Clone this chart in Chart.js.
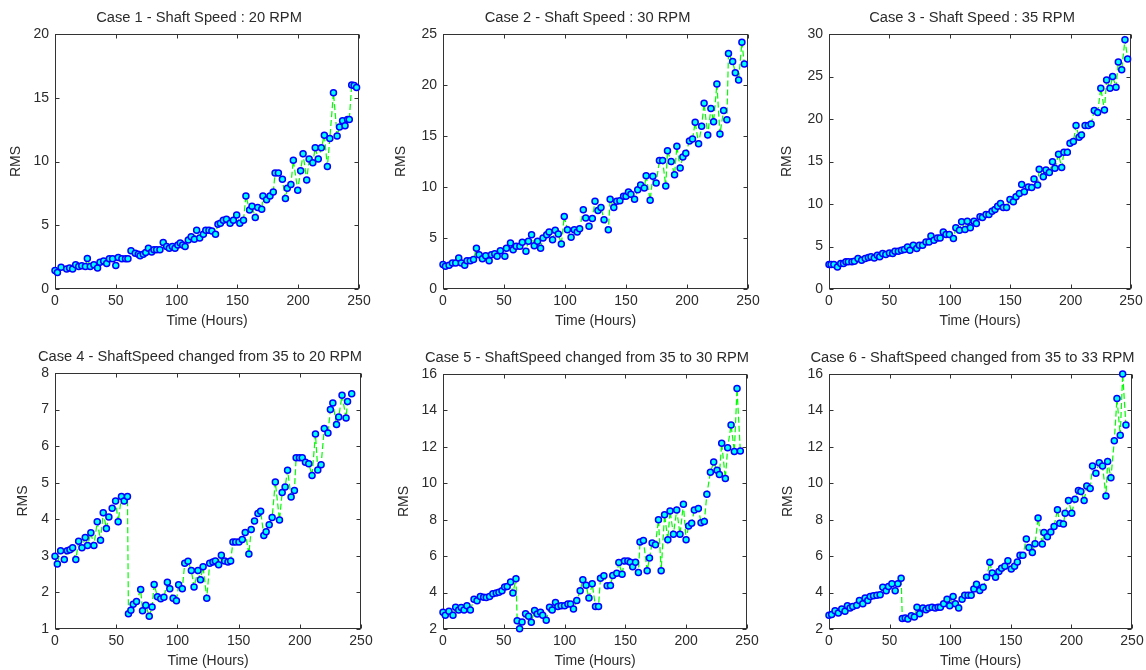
<!DOCTYPE html>
<html>
<head>
<meta charset="utf-8">
<script src="https://cdn.jsdelivr.net/npm/chart.js@4/dist/chart.umd.min.js"></script>
<style>
  html, body { margin: 0; padding: 0; background: #fff; overflow: hidden; }
  #wrap { position: relative; width: 1146px; height: 670px; overflow: hidden; background: #fff; }
  #wrap canvas { position: absolute; }
</style>
</head>
<body>
<div id="wrap"></div>
<script>
// ---------------- DATA ----------------
const xTickValues = [0, 50, 100, 150, 200, 250];

const case1Hours = [0,2,5,9.6,12,14.5,17,19.5,22,25,26.6,29,32,35,37,40,42.5,44.7,47.4,50,52,55,58,60,62.5,66,68.5,70,72.6,74.6,76.8,79.5,81.4,83.6,86.3,89,91.8,94,96.5,98.7,101,103,105,107,109.6,112,114.6,116.5,119,122,124,126.6,129,132,134,136,138.4,141,144,146.7,149.4,152,155,157,160,162,164.7,166.7,170,171,174,176.8,179.5,181,183.7,187,189.5,191,194,196,199.6,202,204,207,209,212,214,216.5,219,221.5,224,226,229,232,234,236.5,238.5,240.6,242,244,246,248];
const case1Rms = [1.46,1.3,1.7,1.56,1.64,1.56,1.9,1.77,1.82,1.77,2.4,1.77,1.9,1.64,2.1,2.2,2.0,2.37,2.37,1.85,2.47,2.37,2.37,2.37,3.0,2.8,2.73,2.6,2.73,2.86,3.2,2.9,3.07,3.07,3.07,3.65,3.33,3.2,3.33,3.2,3.46,3.6,3.46,3.33,3.85,4.1,3.9,4.6,4.0,4.3,4.6,4.6,4.55,4.3,5.08,5.15,5.4,5.47,5.15,5.4,5.8,5.15,5.4,7.3,6.2,6.5,5.6,6.4,6.25,7.3,7.0,7.3,7.6,9.1,9.1,8.6,7.1,7.9,8.2,10.1,7.75,9.27,10.6,8.54,10.2,9.9,11.07,10.2,11.07,12.06,9.6,11.8,15.4,12.0,12.7,13.2,12.8,13.3,13.3,16.0,15.96,15.8];

const case2Hours = [0,2,5,7.7,10.4,12.9,15,17.8,19.7,22.4,25,27.4,29.6,32.3,35,37.8,39.7,42.4,44.4,47,50.7,52,55.3,57.5,60,63,65,68,70,72.6,74.8,77.5,80,82,85,87,89.8,92,94.5,97,99.4,102,105,107.6,110,112,115,117,119.7,122.4,124.6,127,129.5,132,135.5,137,140,142.4,145,148,150,152,154,157,159.6,162,165,166.5,169.8,172,174.7,177.4,180,182.6,184,187,189.8,191.7,194.4,196.6,199,202,204.5,206.7,209.5,212,214,217,219.6,221.8,224.5,227,230,232.7,234,237.4,239.6,242.3,245,247];
const case2Rms = [2.39,2.22,2.32,2.55,2.55,3.04,2.55,2.32,2.78,2.78,2.88,4.0,3.37,2.97,3.27,2.78,3.37,3.46,3.2,3.76,3.2,4.0,4.5,3.86,4.2,4.2,4.58,3.7,4.67,5.33,4.25,4.67,4.0,5.0,5.33,5.6,4.84,5.75,5.4,4.4,7.12,5.8,5.07,5.8,5.6,5.9,7.78,6.96,6.14,6.9,8.6,7.7,8.0,6.8,5.8,8.8,8.0,8.6,8.66,9.1,9.1,9.5,9.3,8.8,9.74,10.2,9.9,11.1,8.7,11.05,10.4,12.6,12.6,10.1,13.56,12.5,11.2,14.0,11.86,12.94,13.3,14.5,14.7,16.34,14.25,15.95,18.2,15.1,17.7,16.4,20.1,15.2,17.5,16.6,23.1,22.3,21.2,20.5,24.2,22.05];

const case3Hours = [0,1.7,4,7,9.7,12,14,16,19,21,24,27,30,32.6,34.8,37.5,40,42,44.4,47,50,52.7,54.6,57.4,60,62.4,65,67,69.8,72.6,74.8,77.5,80.3,82.8,84.4,86.9,89.7,92,94.6,96.9,99.6,103,105,108,109.8,112.6,114.5,117,120,122,125,127,130,132.4,135,137.4,139.6,142,144.3,147,149.8,152.6,154.8,157.6,159.5,161.7,165,167.8,169.7,172.7,174,177.4,179.6,182.4,185,187,190,192.6,194.5,197.3,199.5,202.3,204.5,207,209,212,214.7,217,219.6,222.4,225,228,229.8,232.6,234.8,237.6,239.5,242.3,245,247.2];
const case3Rms = [2.87,2.87,2.87,2.6,3.0,3.0,3.2,3.2,3.2,3.26,3.58,3.38,3.58,3.7,3.78,3.66,3.97,3.78,4.17,4.05,4.25,4.17,4.44,4.44,4.56,4.64,4.95,4.56,5.15,4.76,5.15,5.15,5.54,5.54,6.25,5.74,6.0,6.0,6.7,6.4,6.4,5.94,7.2,6.9,7.9,7.0,7.98,7.2,7.98,7.7,8.5,8.4,8.77,8.77,9.16,9.36,9.75,10.07,9.6,9.6,10.54,10.26,10.85,11.25,12.3,11.44,12.0,11.95,12.94,12.23,14.08,13.2,14.0,13.72,14.98,14.2,15.85,14.3,16.08,16.08,17.14,17.34,19.23,17.85,18.13,19.23,19.23,19.4,21.0,20.76,23.63,21.07,24.6,23.63,25.0,23.75,26.7,25.8,29.33,27.05];

const case4Hours = [0,1.9,4.6,7.6,10,12.2,14.4,17,19.3,22,24.7,26.6,29.3,31.8,34.5,37.2,39.4,42,44,46.7,49.5,51.6,54.3,56.5,59.2,60,62,63.9,66.6,70,71.5,74.2,77,79.3,81,83.7,86.4,89,91.8,93.8,96.5,99.2,101,104,106,108.7,111.4,113.6,116.8,118.8,121,124,126.4,129,131,133.7,135.9,138.6,141.3,143.5,145.4,147.6,150.3,153,155.4,158.4,160.3,163,165.8,168,170.6,172.5,175,177.4,180,183.4,185.6,188,190,192.9,195.6,197,199.7,202,204.6,207.3,210,212.8,214.7,217.4,220,223,225,227,230,231.8,234.5,237.8,239,242.4];
const case4Rms = [2.99,2.78,3.14,2.9,3.14,3.17,3.22,2.9,3.4,3.22,3.5,3.28,3.63,3.28,3.93,3.43,4.18,3.75,4.06,4.3,4.5,3.93,4.62,4.5,4.62,1.42,1.51,1.68,1.75,2.08,1.5,1.65,1.35,1.6,2.22,1.88,1.83,1.87,2.28,2.1,1.84,1.77,2.21,2.1,2.8,2.85,2.6,2.15,2.6,2.35,2.7,1.84,2.8,2.83,2.86,2.76,3.02,2.86,2.83,2.86,3.38,3.38,3.38,3.45,3.64,3.05,3.72,3.95,4.16,4.22,3.56,3.66,3.85,4.05,5.02,3.98,4.73,4.88,5.34,4.61,4.79,5.68,5.68,5.68,5.56,5.52,5.2,6.33,5.35,5.49,6.48,6.36,7.0,7.18,6.59,6.8,7.39,6.77,7.22,7.43];

const case5Hours = [0,1.9,4.9,8.2,10.4,12.9,15,17.3,19.7,22.5,25.5,28,30.7,33.4,35.6,38.3,41,43.8,46,48.5,50.7,52.8,55.6,57.5,60,61,63,65,67.9,70.4,72.6,75.3,77.5,80.2,82,84.9,87.6,89.8,92.5,94.5,97.2,100,102.7,104.9,107.3,110,112.8,115,117.7,120,122.7,125.4,127.9,129.5,132.3,135,137.7,139.6,142.9,144.6,147.3,149.2,152,154,156,158.3,160.7,162,164.8,167.9,169.8,172,174.7,177.2,179.4,182.2,184.9,186.7,189.5,192.2,194.9,197.7,199.9,202,204.5,206.7,210,212.2,214.9,217,219.9,222.6,225.4,227.3,229.2,232.2,234.1,236.9,239.6,241.8,244.5];
const case5Rms = [2.92,2.75,2.97,2.75,3.2,3.05,3.18,3.05,3.27,3.05,3.64,3.55,3.79,3.75,3.73,3.79,3.94,3.98,4.02,4.1,4.3,4.34,4.58,3.98,4.76,2.45,2.02,2.38,2.84,2.7,2.37,3.02,2.82,2.92,2.75,2.48,3.2,3.05,3.46,3.24,3.27,3.27,3.37,3.37,3.1,3.57,4.1,4.7,4.4,3.7,4.48,3.24,3.24,4.79,4.92,4.37,4.39,4.94,5.06,5.65,5.0,5.73,5.73,5.66,5.42,5.66,5.1,6.77,6.86,5.2,5.9,6.72,6.63,8.0,5.2,8.27,6.9,8.48,7.2,8.53,7.2,8.85,6.9,7.66,7.81,8.53,8.62,7.84,7.9,9.4,10.6,11.17,10.72,10.48,12.2,10.26,11.95,13.2,11.74,15.2,11.77];

const case6Hours = [0,2.2,5,7.7,10.5,13.2,15.2,17.4,19.6,22.9,25.1,27.9,29.8,32,34,36.7,39.5,42.2,44.4,47.2,49.1,51.9,54.6,56.8,59.5,60.5,62.9,65.1,67.9,70.4,72.6,74.8,77.5,80,82.2,85,87.7,90,91.9,94.6,97.4,99.6,102.4,104.3,107,109.8,112,114.8,117.3,119.5,121.7,124.4,127.2,130,132.7,134.7,137.4,140.2,142.4,145.1,147.6,150.4,153.1,155.4,157.6,160,162.8,165,167.8,170,172.5,176,177.4,180.2,183,185.7,188.5,190.4,193.4,194.8,197.6,200.3,203,205.8,207.8,210.5,212.7,215.5,217.4,220.2,223,225.7,228.5,229.9,232.6,235.4,237.6,240.3,242.3,245];
const case6Rms = [2.75,2.79,3.0,2.88,3.1,2.97,3.27,3.15,3.24,3.3,3.57,3.39,3.7,3.57,3.79,3.83,3.85,3.88,4.29,4.1,4.34,4.48,4.1,4.48,4.79,2.57,2.6,2.55,2.73,2.66,3.2,2.84,3.15,3.06,3.15,3.2,3.15,3.2,3.2,3.39,3.64,3.27,3.79,3.39,3.15,3.64,3.85,3.85,3.85,4.2,4.46,4.12,4.29,4.84,5.66,5.07,4.84,5.16,5.34,5.44,5.75,5.29,5.44,5.68,6.05,6.05,6.94,6.48,6.2,6.68,8.09,6.66,7.3,7.07,7.32,7.63,8.55,7.8,7.76,8.36,9.05,8.36,9.13,9.6,9.55,9.05,9.85,9.72,10.95,10.55,11.13,10.95,9.3,11.19,10.3,12.33,14.65,12.64,16.0,13.2];

const caseTitles = [
  'Case 1 - Shaft Speed : 20 RPM',
  'Case 2 - Shaft Speed : 30 RPM',
  'Case 3 - Shaft Speed : 35 RPM',
  'Case 4 - ShaftSpeed changed from 35 to 20 RPM',
  'Case 5 - ShaftSpeed changed from 35 to 30 RPM',
  'Case 6 - ShaftSpeed changed from 35 to 33 RPM'
];
const xAxisTitle = 'Time (Hours)';
const yAxisTitle = 'RMS';

// ---------------- LAYOUT / STYLE ----------------
const FONT = "'Liberation Sans', Arial, Helvetica, sans-serif";
const TXT = '#2b2b2b';
const panels = [
  { hours: case1Hours, rms: case1Rms, yMin: 0, yMax: 20, yStep: 5, l: 55,  t: 34,  r: 359,  b: 289, yTitleGap: 39 },
  { hours: case2Hours, rms: case2Rms, yMin: 0, yMax: 25, yStep: 5, l: 443, t: 34,  r: 748,  b: 289, yTitleGap: 42 },
  { hours: case3Hours, rms: case3Rms, yMin: 0, yMax: 30, yStep: 5, l: 829, t: 34,  r: 1131, b: 289, yTitleGap: 42 },
  { hours: case4Hours, rms: case4Rms, yMin: 1, yMax: 8,  yStep: 1, l: 55,  t: 373, r: 361,  b: 629, yTitleGap: 31.5 },
  { hours: case5Hours, rms: case5Rms, yMin: 2, yMax: 16, yStep: 2, l: 443, t: 374, r: 747,  b: 629, yTitleGap: 39 },
  { hours: case6Hours, rms: case6Rms, yMin: 2, yMax: 16, yStep: 2, l: 829, t: 374, r: 1132, b: 629, yTitleGap: 41 }
];
const Y_AXIS_W = 55, RIGHT_W = 39, TOP_H = 34, X_AXIS_H = 42;

const framePlugin = {
  id: 'matlabFrame',
  beforeDatasetsDraw(chart) {
    const { ctx, chartArea: a, scales } = chart;
    const L = Math.round(a.left) + 0.5, R = Math.round(a.right) - 0.5;
    const T = Math.round(a.top) + 0.5, B = Math.round(a.bottom) - 0.5;
    const tl = 4;
    ctx.save();
    ctx.strokeStyle = '#333333';
    ctx.lineWidth = 1;
    ctx.beginPath();
    scales.x.ticks.forEach(tk => {
      const px = Math.round(scales.x.getPixelForValue(tk.value)) + 0.5;
      ctx.moveTo(px, B); ctx.lineTo(px, B - tl);
      ctx.moveTo(px, T); ctx.lineTo(px, T + tl);
    });
    scales.y.ticks.forEach(tk => {
      const py = Math.round(scales.y.getPixelForValue(tk.value)) + 0.5;
      ctx.moveTo(L, py); ctx.lineTo(L + tl, py);
      ctx.moveTo(R, py); ctx.lineTo(R - tl, py);
    });
    ctx.stroke();
    ctx.strokeRect(L, T, R - L, B - T);
    ctx.restore();
  }
};

const wrap = document.getElementById('wrap');
panels.forEach((p, i) => {
  const cv = document.createElement('canvas');
  const w = Y_AXIS_W + (p.r - p.l) + RIGHT_W;
  const h = TOP_H + (p.b - p.t) + X_AXIS_H;
  cv.width = w; cv.height = h;
  cv.style.width = w + 'px'; cv.style.height = h + 'px';
  cv.style.left = (p.l - Y_AXIS_W) + 'px';
  cv.style.top = (p.t - TOP_H) + 'px';
  wrap.appendChild(cv);

  const pts = p.hours.map((hx, k) => ({ x: hx, y: p.rms[k] }));
  const titleSize = 14.7;
  const titleLH = titleSize * 1.2;
  const titlePadTop = 18 - titleLH / 2;
  const axisLH = 14 * 1.2;

  new Chart(cv, {
    type: 'line',
    data: {
      datasets: [{
        data: pts,
        borderColor: '#00ff00',
        borderWidth: 1.2,
        borderDash: [6, 3],
        tension: 0,
        fill: false,
        pointRadius: 3,
        pointBorderWidth: 1.5,
        pointBackgroundColor: '#00ffff',
        pointBorderColor: '#0000ff',
        pointHoverRadius: 3,
        clip: false
      }]
    },
    options: {
      responsive: false,
      animation: false,
      devicePixelRatio: 1,
      events: [],
      layout: { padding: 0 },
      plugins: {
        legend: { display: false },
        tooltip: { enabled: false },
        title: {
          display: true,
          text: caseTitles[i],
          color: TXT,
          font: { family: FONT, size: titleSize, weight: 'normal', lineHeight: 1.2 },
          padding: { top: titlePadTop, bottom: TOP_H - titlePadTop - titleLH }
        }
      },
      scales: {
        x: {
          type: 'linear',
          position: 'bottom',
          min: 0, max: 250,
          afterBuildTicks(s) { s.ticks = xTickValues.map(v => ({ value: v })); },
          ticks: { color: TXT, font: { family: FONT, size: 14 }, padding: 4, maxRotation: 0, autoSkip: false },
          grid: { display: false, drawTicks: false },
          border: { display: false },
          title: {
            display: true, text: xAxisTitle, color: TXT,
            font: { family: FONT, size: 14, lineHeight: 1.2 },
            padding: { top: 0, bottom: 1.8 }
          },
          afterFit(s) { s.height = X_AXIS_H; }
        },
        y: {
          type: 'linear',
          position: 'left',
          min: p.yMin, max: p.yMax,
          ticks: { stepSize: p.yStep, color: TXT, font: { family: FONT, size: 14 }, padding: 6 },
          grid: { display: false, drawTicks: false },
          border: { display: false },
          title: {
            display: true, text: yAxisTitle, color: TXT,
            font: { family: FONT, size: 14, lineHeight: 1.2 },
            padding: { top: Y_AXIS_W - p.yTitleGap - axisLH / 2, bottom: 0 }
          },
          afterFit(s) { s.width = Y_AXIS_W; }
        },
        yr: {
          type: 'linear',
          position: 'right',
          min: 0, max: 1,
          ticks: { display: false },
          grid: { display: false, drawTicks: false },
          border: { display: false },
          afterFit(s) { s.width = RIGHT_W; }
        }
      }
    },
    plugins: [framePlugin]
  });
});
</script>
</body>
</html>
